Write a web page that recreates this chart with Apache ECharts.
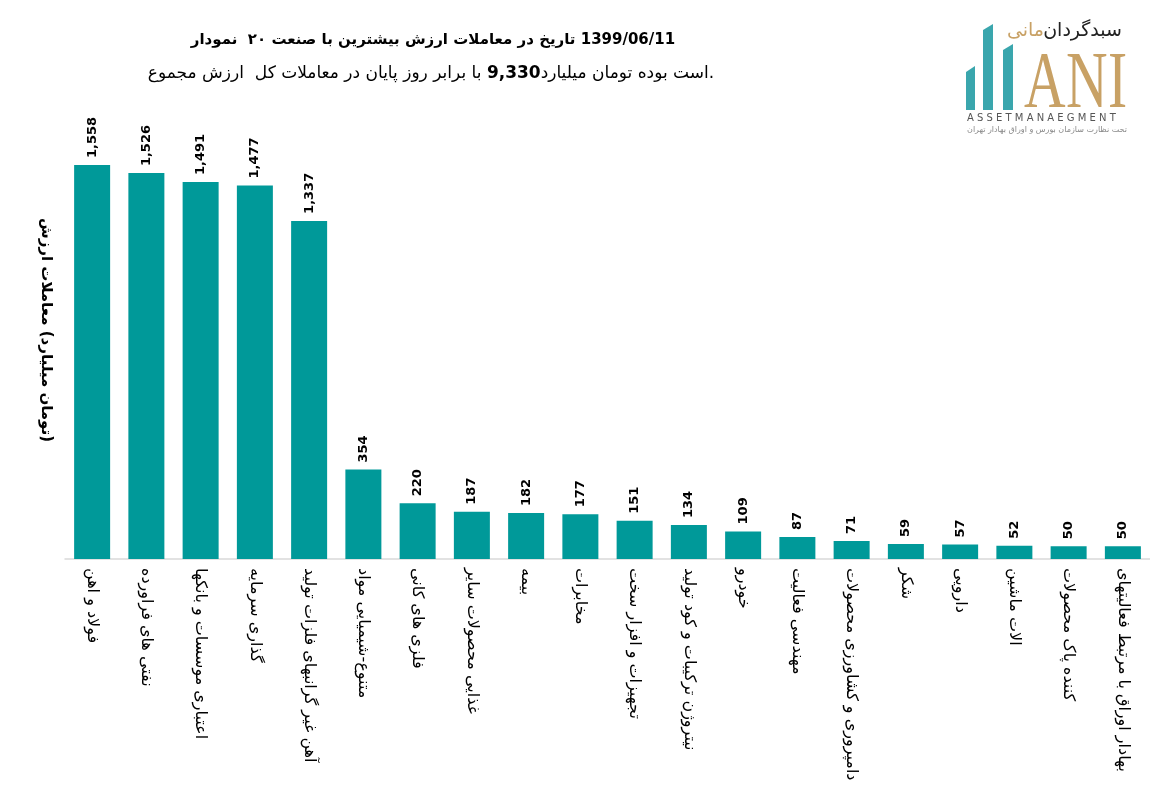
<!DOCTYPE html>
<html dir="ltr">
<head>
<meta charset="utf-8">
<script src="https://cdn.jsdelivr.net/npm/echarts@6/dist/echarts.min.js"></script>
<style>
html, body { margin: 0; padding: 0; background: #fff; direction: ltr; }
#chart { width: 1150px; height: 789px; direction: ltr; }
</style>
</head>
<body>
<div id="chart"></div>
<script>
// industries, ordered as in the picture (left to right)
const industries = [
    'اهن و فولاد',
    'فراورده های نفتی',
    'بانکها و موسسات اعتباری',
    'سرمایه گذاری',
    'تولید فلزات گرانبهای غیر آهن',
    'مواد شیمیایی-متنوع',
    'کانی های فلزی',
    'سایر محصولات غذایی',
    'بیمه',
    'مخابرات',
    'سخت افزار و تجهیزات',
    'تولید کود و ترکیبات نیتروژن',
    'خودرو',
    'فعالیت مهندسی',
    'محصولات کشاورزی و دامپروری',
    'شکر',
    'دارویی',
    'ماشین الات',
    'محصولات پاک کننده',
    'فعالیتهای مرتبط با اوراق بهادار'
];
// trading value, billion toman
const tradeValues = [1558, 1526, 1491, 1477, 1337, 354, 220, 187, 182, 177, 151, 134, 109, 87, 71, 59, 57, 52, 50, 50];

const titleLine1 = 'نمودار  ۲۰ صنعت با بیشترین ارزش معاملات در تاریخ 1399/06/11';
const titleLine2a = 'مجموع ارزش  کل معاملات در پایان روز برابر با ';
const titleTotal = '9,330';
const titleLine2b = 'میلیارد تومان بوده است.';
const yName = 'ارزش معاملات (میلیارد تومان)';

const teal = '#009999';
const logoTeal = '#3aa6ad';
const gold = '#c8a165';
const fontFa = '"DejaVu Sans", sans-serif';
const fontLine1 = 'bold 15px ' + fontFa;
const fontLine2 = '17px ' + fontFa;
const fontLine2Bold = 'bold 17px ' + fontFa;
const fontYName = 'bold 15px ' + fontFa;

// the source lays the words out left to right, so split into pieces
function pieces(s) {
    return s.split(/(\s|-|\(|\)|\.)/).filter((p) => p !== '');
}

// same for axis labels, one rich token per piece
function ltrTokens(s) {
    return s.split(/(\s|-)/)
        .filter((p) => p !== '')
        .map((p) => '{w|' + p + '}')
        .join('');
}

const measureCtx = document.createElement('canvas').getContext('2d');

// one text element per piece, centered on (cx, cy)
function wordGroup(items, cx, cy, rotation) {
    const widths = items.map((it) => {
        measureCtx.font = it.font;
        return measureCtx.measureText(it.text).width;
    });
    const total = widths.reduce((a, b) => a + b, 0);
    let x = -total / 2;
    const children = items.map((it, i) => {
        const el = {
            type: 'text',
            x: x,
            y: 0,
            style: { text: it.text, font: it.font, fill: '#000', align: 'left', verticalAlign: 'middle' }
        };
        x += widths[i];
        return el;
    });
    return { type: 'group', x: cx, y: cy, rotation: rotation || 0, children };
}

const line1Items = pieces(titleLine1).map((t) => ({ text: t, font: fontLine1 }));
const line2Items = pieces(titleLine2a).map((t) => ({ text: t, font: fontLine2 }))
    .concat([{ text: titleTotal, font: fontLine2Bold }])
    .concat(pieces(titleLine2b).map((t) => ({ text: t, font: fontLine2 })));
const yNameItems = pieces(yName).map((t) => ({ text: t, font: fontYName }));

const chart = echarts.init(document.getElementById('chart'));
chart.setOption({
    animation: false,
    textStyle: { fontFamily: fontFa },
    grid: { left: 65, right: -2, top: 154.4, bottom: 230 },
    xAxis: {
        type: 'category',
        data: industries,
        axisLine: { lineStyle: { color: '#d9d9d9', width: 1.5 } },
        axisTick: { show: false },
        axisLabel: {
            rotate: -90,
            interval: 0,
            margin: 9,
            formatter: (v) => ltrTokens(v),
            rich: {
                w: { fontSize: 16, color: '#000', fontFamily: fontFa }
            }
        }
    },
    yAxis: {
        type: 'value',
        min: 0,
        max: 1600,
        axisLine: { show: false },
        axisTick: { show: false },
        axisLabel: { show: false },
        splitLine: { show: false }
    },
    series: [{
        type: 'bar',
        data: tradeValues,
        barWidth: 36,
        itemStyle: { color: teal },
        label: {
            show: true,
            position: 'top',
            rotate: 90,
            align: 'left',
            verticalAlign: 'middle',
            distance: 7,
            fontSize: 13,
            fontWeight: 'bold',
            color: '#000',
            fontFamily: '"DejaVu Sans", sans-serif',
            formatter: (p) => p.value.toLocaleString('en-US')
        }
    }],
    graphic: [
        // title, two lines
        wordGroup(line1Items, 433, 40),
        wordGroup(line2Items, 431, 74),
        // y axis name
        wordGroup(yNameItems, 46, 330, -Math.PI / 2),
        // logo: teal towers
        { type: 'polygon', shape: { points: [[966, 72], [975, 66], [975, 110], [966, 110]] }, style: { fill: logoTeal } },
        { type: 'polygon', shape: { points: [[983, 30], [993, 24], [993, 110], [983, 110]] }, style: { fill: logoTeal } },
        { type: 'polygon', shape: { points: [[1003, 50], [1013, 44], [1013, 110], [1003, 110]] }, style: { fill: logoTeal } },
        { type: 'text', x: 1024, y: 46, scaleX: 0.72, style: { text: 'A', font: '80px "Liberation Serif", serif', fill: gold } },
        { type: 'text', x: 1066, y: 46, scaleX: 0.72, style: { text: 'N', font: '80px "Liberation Serif", serif', fill: gold } },
        { type: 'text', x: 1108, y: 46, scaleX: 0.72, style: { text: 'I', font: '80px "Liberation Serif", serif', fill: gold } },
        { type: 'text', x: 1122, y: 22, style: { text: 'سبدگردان', align: 'right', font: '19px ' + fontFa, fill: '#222' } },
        { type: 'text', x: 1044, y: 22, style: { text: 'مانی', align: 'right', font: '19px ' + fontFa, fill: gold } },
        { type: 'text', x: 967, y: 113, style: { text: 'A S S E T M A N A E G M E N T', font: '10px "DejaVu Sans", sans-serif', fill: '#555' } },
        { type: 'text', x: 967, y: 126, style: { text: 'تحت نظارت سازمان بورس و اوراق بهادار تهران', font: '8px ' + fontFa, fill: '#888' } }
    ]
});
</script>
</body>
</html>
